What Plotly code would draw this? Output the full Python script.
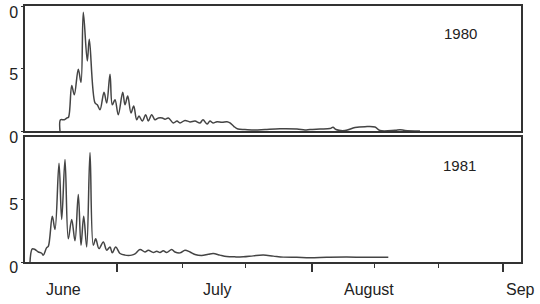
import plotly.graph_objects as go
from plotly.subplots import make_subplots

# x = days after 1 June
days_1980 = [-0.6, -0.5, 0.26, 0.8, 1.1, 1.74, 2.26, 3.06, 3.6, 4.06, 4.86, 5.26, 6.4, 6.86, 7.4,
             8.2, 8.74, 9.4, 9.86, 10.4, 11.06, 11.94, 12.4, 12.94, 13.6, 14.14, 14.74, 15.2,
             15.86, 16.54, 17.06, 17.74, 18.4, 19.06, 19.86, 20.4, 21.06, 22.06, 22.8, 23.4,
             24.4, 25.4, 26.4, 27.4, 28.0, 28.8, 29.4, 30.0, 30.8, 31.8, 32.8, 33.4, 34.2,
             35.0, 36.4, 38.4, 40.4, 43.4, 46.8, 48.4, 49.4, 51.4, 53.4, 54.0, 54.6, 56.4,
             58.4, 60.4, 62.4, 63.4, 66.4, 67.4, 68.4, 71.4]
vals_1980 = [0, 0.9, 0.9, 1.05, 1.1, 3.65, 2.9, 4.95, 3.9, 9.5, 5.6, 7.35, 2.25, 2.1, 1.7,
             3.1, 2.25, 4.55, 2.1, 2.5, 1.3, 3.1, 2.1, 2.8, 1.45, 2.0, 0.9, 1.2,
             0.8, 1.3, 0.8, 1.3, 0.9, 1.05, 1.05, 0.95, 1.05, 0.65, 0.8, 0.65,
             0.85, 0.73, 0.8, 0.65, 0.9, 0.56, 0.8, 0.65, 0.75, 0.7, 0.75, 0.65, 0.36,
             0.16, 0.12, 0.08, 0.12, 0.18, 0.16, 0.08, 0.12, 0.16, 0.2, 0.3, 0.12, 0.04,
             0.28, 0.35, 0.32, 0.04, 0.06, 0.1, 0.05, 0.0]

days_1981 = [-6.6, -6.14, -5.6, -4.94, -4.26, -3.94, -3.26, -2.94, -2.14, -1.6, -0.8, -0.26,
             0.4, 1.06, 1.74, 2.4, 3.06, 3.6, 4.14, 4.74, 5.4, 6.06, 6.54, 7.2, 8.06, 8.74,
             9.4, 9.86, 10.54, 11.4, 12.4, 13.74, 14.4, 15.4, 16.4, 17.06, 18.06, 18.74,
             19.4, 20.06, 20.74, 21.74, 22.4, 23.4, 24.4, 25.4, 26.4, 27.74, 29.06, 30.06,
             31.4, 32.74, 34.4, 36.06, 38.06, 40.06, 42.06, 44.06, 46.74, 49.4, 52.74,
             56.74, 60.06, 62.74, 65.06]
vals_1981 = [0, 1.05, 1.0, 0.8, 0.7, 0.55, 1.15, 1.25, 3.65, 2.6, 7.9, 3.4,
             8.2, 1.85, 3.4, 1.7, 5.4, 1.33, 3.65, 1.2, 8.75, 1.33, 1.85, 1.07, 1.6, 0.95,
             1.2, 0.73, 1.2, 0.68, 0.55, 0.55, 0.65, 1.0, 0.8, 0.93, 0.76, 0.86,
             0.76, 0.9, 0.76, 1.0, 0.8, 0.73, 0.94, 0.8, 0.6, 0.52, 0.62, 0.68,
             0.55, 0.44, 0.41, 0.41, 0.49, 0.55, 0.47, 0.39, 0.37, 0.34, 0.37,
             0.39, 0.37, 0.37, 0.37]

month_labels = ["June", "July", "August", "Sep"]
month_pos = [0, 30.8, 61.2, 91.5]
major_ticks = [10.8, 49.8, 88.0]
minor_ticks = [23.8, 36.4, 62.2, 75.0]
year_labels = ["1980", "1981"]

LINE = "#444444"
AX = "#333333"
FONT = "Liberation Sans, Arial, sans-serif"

fig = make_subplots(rows=2, cols=1, shared_xaxes=True, vertical_spacing=0.023)
fig.add_trace(go.Scatter(x=days_1980, y=vals_1980, mode="lines",
                         line=dict(color=LINE, width=1.5, shape="spline", smoothing=1.0),
                         showlegend=False), row=1, col=1)
fig.add_trace(go.Scatter(x=days_1981, y=vals_1981, mode="lines",
                         line=dict(color=LINE, width=1.5, shape="spline", smoothing=1.0),
                         showlegend=False), row=2, col=1)

xr = [-7.6, 91.6]
fig.update_xaxes(range=xr, showgrid=False, zeroline=False, showline=True, mirror=True,
                 linecolor=AX, linewidth=1.5, showticklabels=False, ticks="")
fig.update_xaxes(row=2, col=1, ticks="outside", tickmode="array", tickvals=major_ticks,
                 ticklen=8, tickwidth=1.5, tickcolor=AX,
                 minor=dict(ticks="outside", tickmode="array", tickvals=minor_ticks,
                            ticklen=4, tickwidth=1.3, tickcolor=AX, showgrid=False))
fig.update_yaxes(range=[0, 10], showgrid=False, zeroline=False, showline=True, mirror=True,
                 linecolor=AX, linewidth=1.5, ticks="outside", ticklen=2, tickcolor=AX,
                 tickfont=dict(family=FONT, size=16, color="#222222"))
fig.update_yaxes(row=1, col=1, tickmode="array", tickvals=[0, 5, 10], ticktext=["0", "5", "0"],
                 ticklabelshift=6)
fig.update_yaxes(row=2, col=1, tickmode="array", tickvals=[0, 5], ticktext=["0", "5"],
                 ticklabelshift=5)

for lab, pos in zip(month_labels, month_pos):
    fig.add_annotation(x=pos, y=0, xref="x2", yref="paper", yanchor="middle", yshift=-27,
                       text=lab, showarrow=False,
                       font=dict(family=FONT, size=16, color="#222222"))

fig.add_annotation(x=79.4, y=7.8, xref="x", yref="y", text=year_labels[0], showarrow=False,
                   font=dict(family=FONT, size=15, color="#222222"))
fig.add_annotation(x=79.2, y=7.7, xref="x2", yref="y2", text=year_labels[1], showarrow=False,
                   font=dict(family=FONT, size=15, color="#222222"))

fig.update_layout(width=540, height=304, margin=dict(l=25, r=19, t=4, b=42),
                  plot_bgcolor="white", paper_bgcolor="white")
fig.write_html("out.html")
